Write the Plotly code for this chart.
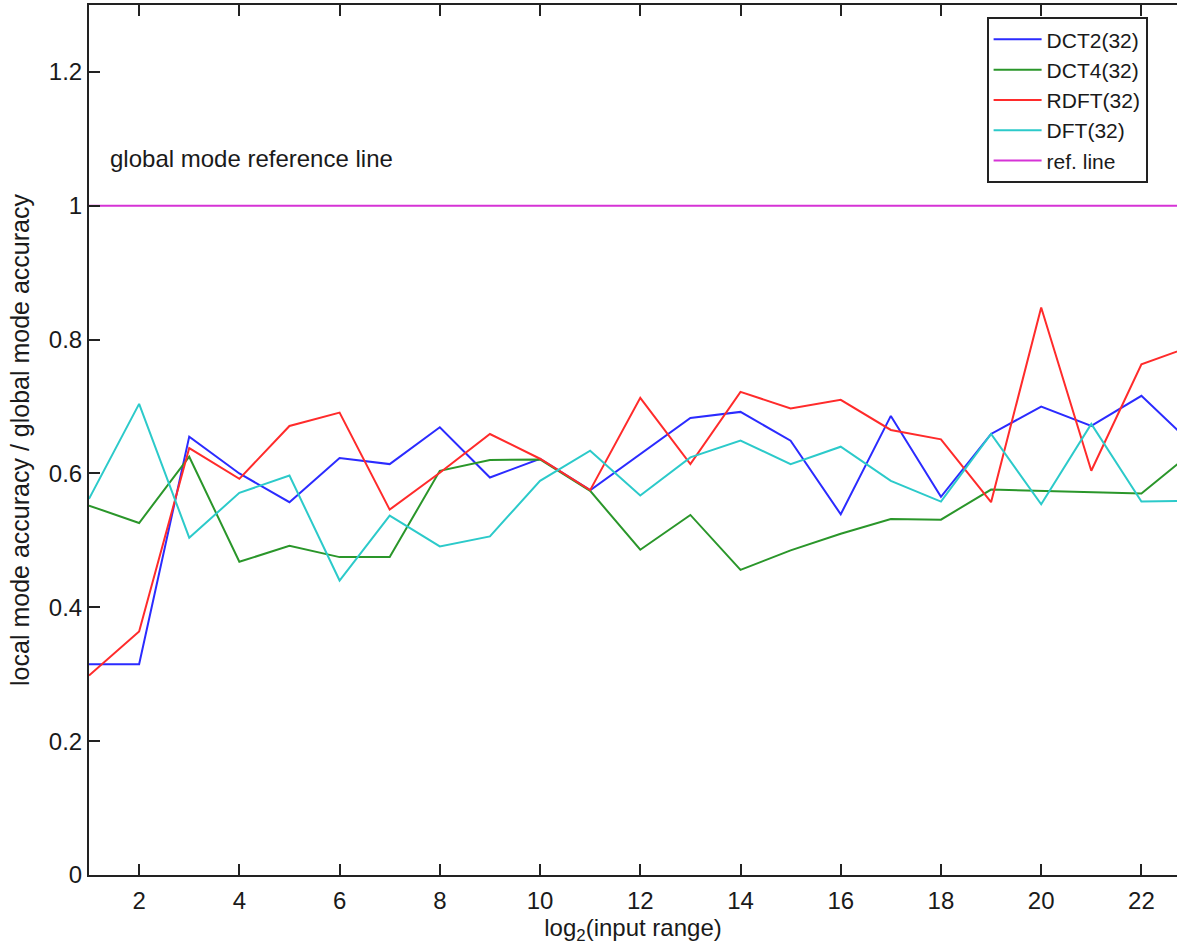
import plotly.graph_objects as go

x = list(range(1, 24))

dct2 = [0.315, 0.315, 0.655, 0.600, 0.557, 0.623, 0.614, 0.669, 0.594, 0.622, 0.575, 0.629,
        0.683, 0.692, 0.649, 0.539, 0.686, 0.565, 0.659, 0.700, 0.671, 0.716, 0.645]
dct4 = [0.552, 0.526, 0.625, 0.468, 0.492, 0.475, 0.475, 0.604, 0.620, 0.621, 0.574, 0.486,
        0.538, 0.456, 0.485, 0.510, 0.532, 0.531, 0.576, 0.574, 0.573, 0.570, 0.631]
rdft = [0.298, 0.364, 0.638, 0.592, 0.671, 0.691, 0.546, 0.601, 0.659, 0.622, 0.575, 0.713,
        0.614, 0.722, 0.697, 0.710, 0.665, 0.651, 0.557, 0.848, 0.604, 0.763, 0.790]
dft = [0.562, 0.704, 0.504, 0.571, 0.597, 0.440, 0.537, 0.491, 0.506, 0.589, 0.634, 0.567,
       0.624, 0.649, 0.614, 0.640, 0.589, 0.558, 0.659, 0.554, 0.674, 0.558, 0.559]
ref = [1.0] * len(x)

series = [
    ("DCT2(32)", dct2, "#2b2bff"),
    ("DCT4(32)", dct4, "#2a962a"),
    ("RDFT(32)", rdft, "#ff2b2b"),
    ("DFT(32)", dft, "#2ccaca"),
    ("ref. line", ref, "#d633d6"),
]

y_ticks = [0, 0.2, 0.4, 0.6, 0.8, 1, 1.2]
y_ticklabels = ["0", "0.2", "0.4", "0.6", "0.8", "1", "1.2"]
x_ticks = list(range(2, 24, 2))

FONT = "Liberation Sans, Arial, Helvetica, sans-serif"
TXT = "#1a1a1a"

fig = go.Figure()
for name, vals, col in series:
    fig.add_trace(go.Scatter(x=x, y=vals, mode="lines", name=name,
                             line=dict(color=col, width=2)))

fig.add_annotation(x=1.37, y=1.07, xref="x", yref="y", text="global mode reference line",
                   showarrow=False, xanchor="left", yanchor="middle",
                   font=dict(size=24, color=TXT, family=FONT))

fig.update_layout(
    width=1177, height=946,
    margin=dict(l=89, r=0, t=5, b=71),
    paper_bgcolor="white", plot_bgcolor="white",
    font=dict(family=FONT, size=24, color=TXT),
    showlegend=True,
    legend=dict(x=0.825, y=0.986, xanchor="left", yanchor="top",
                bgcolor="white", bordercolor="#222222", borderwidth=2,
                font=dict(size=21, family=FONT, color=TXT),
                itemwidth=48, entrywidth=190),
    xaxis=dict(range=[1, 22.71], tickvals=x_ticks, ticks="inside", ticklen=11,
               tickcolor="#222222", tickwidth=1.5, showline=True, linecolor="#222222",
               linewidth=2, mirror="ticks", showgrid=False, zeroline=False,
               ticklabelstandoff=3,
               tickfont=dict(size=24),
               title=dict(text="log<sub>2</sub>(input range)", font=dict(size=24), standoff=4)),
    yaxis=dict(range=[0, 1.3], tickvals=y_ticks, ticktext=y_ticklabels, ticks="inside",
               ticklen=11, tickcolor="#222222", tickwidth=1.5, showline=True,
               linecolor="#222222", linewidth=2, mirror=False, showgrid=False,
               zeroline=False, tickfont=dict(size=24),
               title=dict(text="local mode accuracy / global mode accuracy",
                          font=dict(size=25), standoff=12)),
)

fig.write_html("out.html", config={"displayModeBar": False},
               post_script="document.body.style.margin='0';")
